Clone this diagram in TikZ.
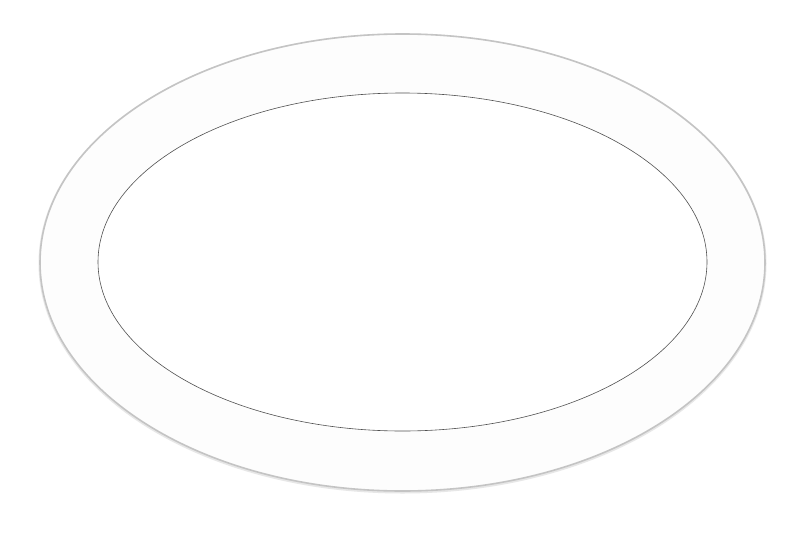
\documentclass[tikz,border=0pt]{standalone}
\definecolor{outerc}{RGB}{196,196,196}
\definecolor{innerc}{RGB}{80,80,80}
\definecolor{ringc}{RGB}{253,253,253}
\tikzset{
  outerring/.style={draw=outerc, line width=1.6pt, fill=ringc},
  innerhole/.style={draw=innerc, line width=0.6pt, fill=white},
}
\begin{document}
\begin{tikzpicture}[x=1pt,y=-1pt]
\useasboundingbox[fill=white] (0,0) rectangle (800,533);
\draw[draw=outerc!40, line width=3pt] (402.5,263.5) ellipse [x radius=362.5, y radius=228.5];
\path[outerring] (402.5,262.5) ellipse [x radius=362.5, y radius=228.5];
\path[innerhole] (402.5,262) ellipse [x radius=304.5, y radius=169];
\end{tikzpicture}
\end{document}
